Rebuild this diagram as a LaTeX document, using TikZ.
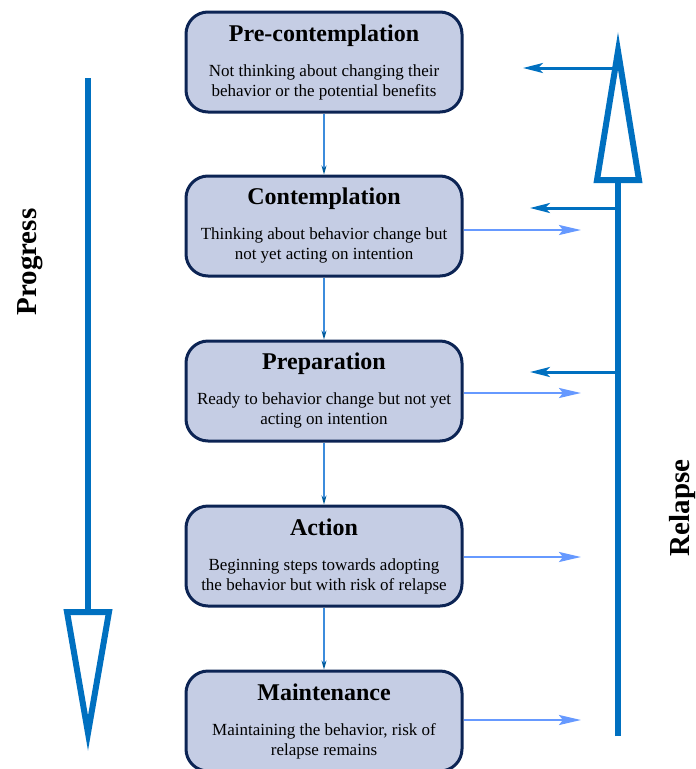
\documentclass[tikz,border=0pt]{standalone}
\usepackage{fontspec}
\setmainfont{Liberation Serif}
\usetikzlibrary{arrows.meta,calc}
\definecolor{boxfill}{RGB}{197,205,228}
\definecolor{boxline}{RGB}{12,36,84}
\definecolor{bigblue}{RGB}{0,112,192}
\definecolor{lightblue}{RGB}{102,153,255}
\definecolor{thinblue}{RGB}{60,140,220}
\begin{document}
\begin{tikzpicture}[x=1pt,y=-1pt,
  stage/.style={draw=boxline, line width=3pt, fill=boxfill, rounded corners=22pt,
    minimum width=276pt, minimum height=100pt, align=center, inner sep=0pt,
    font=\fontsize{17}{20}\selectfont},
  downarr/.style={draw=thinblue, line width=1.2pt, -{Stealth[length=9pt,width=5pt,color=bigblue!80!black]}},
  bigline/.style={draw=bigblue, line width=6pt},
  bighead/.style={draw=bigblue, line width=6pt, fill=white, line join=miter},
  backarr/.style={draw=bigblue, line width=3pt, -{Stealth[length=20pt,width=10pt,inset=5pt]}},
  fwdarr/.style={draw=lightblue, line width=2.5pt, -{Stealth[length=22pt,width=10pt,inset=4pt]}},
  sidelabel/.style={rotate=90, font=\fontsize{29}{32}\selectfont\bfseries}
]
\useasboundingbox (0,0) rectangle (696,769);
\newcommand{\ttl}[1]{{\fontsize{24}{26}\selectfont\bfseries #1}\\[15pt]}

\node[stage] (b1) at (324,62) {\ttl{Pre-contemplation}Not thinking about changing their\\behavior or the potential benefits};
\node[stage] (b2) at (324,226) {\ttl{Contemplation}Thinking about behavior change but\\not yet acting on intention};
\node[stage] (b3) at (324,391) {\ttl{Preparation}Ready to behavior change but not yet\\acting on intention};
\node[stage] (b4) at (324,556) {\ttl{Action}Beginning steps towards adopting\\the behavior but with risk of relapse};
\node[stage] (b5) at (324,721) {\ttl{Maintenance}Maintaining the behavior, risk of\\relapse remains};

\draw[downarr] (b1) -- (b2);
\draw[downarr] (b2) -- (b3);
\draw[downarr] (b3) -- (b4);
\draw[downarr] (b4) -- (b5);

% Progress arrow
\coordinate (p1) at (88,78);
\coordinate (p2) at (88,612);
\draw[bigline] (p1) -- (p2);
\draw[bighead] ($(p2)+(-21,0)$) -- ($(p2)+(21,0)$) -- ($(p2)+(0,121)$) -- cycle;
\node[sidelabel] (prog) at (30,262) {Progress};

% Relapse arrow
\coordinate (q1) at (618,736);
\coordinate (q2) at (618,180);
\draw[bigline] (q1) -- (q2);
\draw[bighead] ($(q2)+(-21,0)$) -- ($(q2)+(21,0)$) -- ($(q2)+(0,-129)$) -- cycle;
\node[sidelabel] (rel) at (683,508) {Relapse};

% back arrows
\coordinate (r1) at (615,68);  \coordinate (t1) at (523,68);
\coordinate (r2) at (615,208); \coordinate (t2) at (530,208);
\coordinate (r3) at (615,372); \coordinate (t3) at (530,372);
\draw[backarr] (r1) -- (t1);
\draw[backarr] (r2) -- (t2);
\draw[backarr] (r3) -- (t3);

% forward arrows
\coordinate (e2) at (581,230);
\coordinate (e3) at (581,393);
\coordinate (e4) at (581,557);
\coordinate (e5) at (581,720);
\draw[fwdarr] (b2.east |- e2) -- (e2);
\draw[fwdarr] (b3.east |- e3) -- (e3);
\draw[fwdarr] (b4.east |- e4) -- (e4);
\draw[fwdarr] (b5.east |- e5) -- (e5);
\end{tikzpicture}
\end{document}
